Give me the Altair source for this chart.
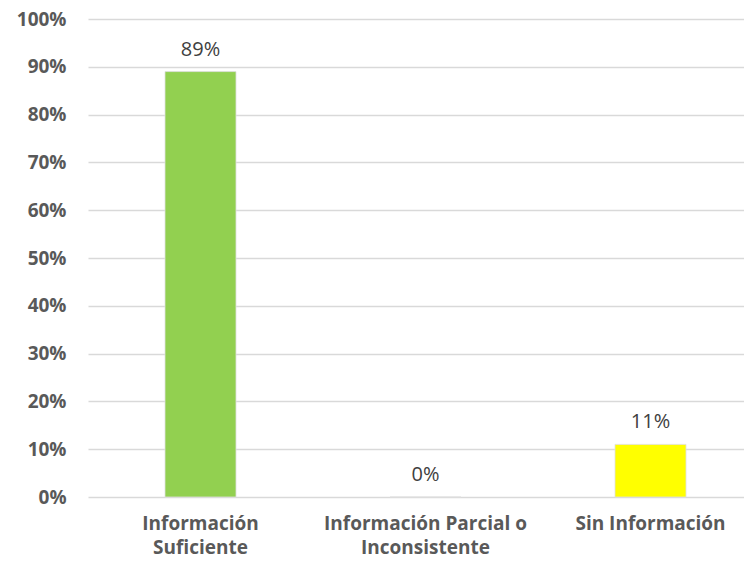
import altair as alt
import pandas as pd

categories = ["Información\nSuficiente", "Información Parcial o\nInconsistente", "Sin Información"]
values = [0.89, 0.0, 0.11]
labels = ["89%", "0%", "11%"]
colors = ["#92d050", "#92d050", "#ffff00"]

df = pd.DataFrame({"cat": categories, "val": values, "lab": labels, "col": colors})

FONT = "Open Sans"

x = alt.X("cat:N", sort=categories, title=None,
          scale=alt.Scale(paddingInner=0, paddingOuter=0, range=[0, 675]),
          axis=alt.Axis(labelExpr="split(datum.label, '\\n')", labelAngle=0,
                        labelFont=FONT, labelFontSize=19, labelFontWeight="bold",
                        labelColor="#595959", labelPadding=17, labelLineHeight=24,
                        labelLimit=400, ticks=False, domain=False, grid=False))
y = alt.Y("val:Q", title=None,
          scale=alt.Scale(domain=[0, 1]),
          axis=alt.Axis(format=".0%", values=[i / 10 for i in range(11)],
                        labelFont=FONT, labelFontSize=19, labelFontWeight="bold",
                        labelColor="#595959", labelPadding=22, ticks=False,
                        domain=False, gridColor="#d9d9d9", gridWidth=1.5))

bars = alt.Chart(df).mark_bar(size=71, stroke="#e0e0e0", strokeWidth=0.8).encode(
    x=x, y=y, color=alt.Color("col:N", scale=None)
)

text = alt.Chart(df).mark_text(baseline="alphabetic", dy=-16, font=FONT, fontSize=20,
                               color="#404040").encode(
    x=alt.X("cat:N", sort=categories),
    y="val:Q",
    text="lab:N",
)

chart = alt.layer(bars, text).properties(
    width=656, height=478,
    padding={"left": 80, "top": 11, "right": 0, "bottom": 63},
    autosize=alt.AutoSizeParams(type="none"),
    background="white",
).configure_view(stroke=None)

chart.save("out.html", embed_options={"renderer": "svg", "actions": False})
